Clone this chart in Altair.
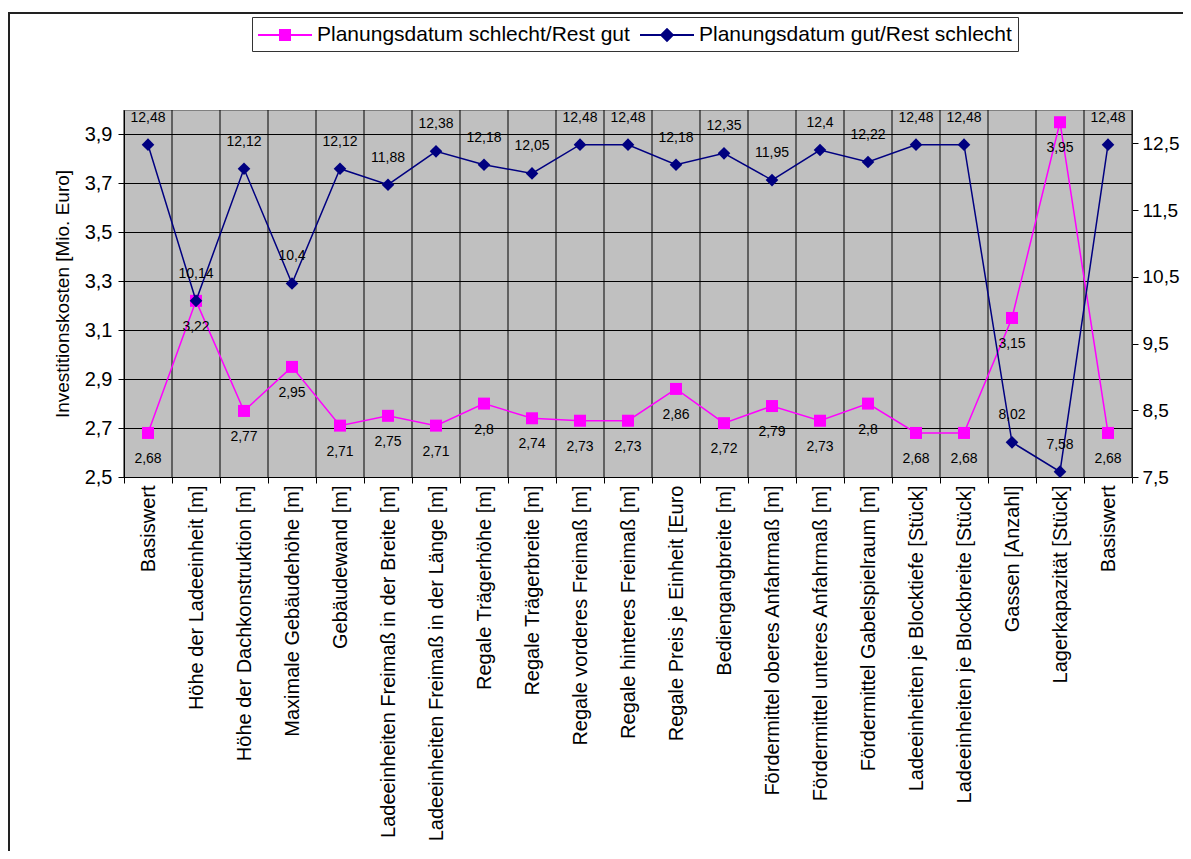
import json
import altair as alt
import pandas as pd

categories = [
    "Basiswert",
    "Höhe der Ladeeinheit [m]",
    "Höhe der Dachkonstruktion [m]",
    "Maximale Gebäudehöhe [m]",
    "Gebäudewand [m]",
    "Ladeeinheiten Freimaß in der Breite [m]",
    "Ladeeinheiten Freimaß in der Länge [m]",
    "Regale Trägerhöhe [m]",
    "Regale Trägerbreite [m]",
    "Regale vorderes Freimaß [m]",
    "Regale hinteres Freimaß [m]",
    "Regale Preis je Einheit [Euro",
    "Bediengangbreite [m]",
    "Fördermittel oberes Anfahrmaß [m]",
    "Fördermittel unteres Anfahrmaß [m]",
    "Fördermittel Gabelspielraum [m]",
    "Ladeeinheiten je Blocktiefe [Stück]",
    "Ladeeinheiten je Blockbreite [Stück]",
    "Gassen [Anzahl]",
    "Lagerkapazität [Stück]",
    "Basiswert",
]
pink_values = [2.68, 3.22, 2.77, 2.95, 2.71, 2.75, 2.71, 2.8, 2.74, 2.73, 2.73,
               2.86, 2.72, 2.79, 2.73, 2.8, 2.68, 2.68, 3.15, 3.95, 2.68]
blue_values = [12.48, 10.14, 12.12, 10.4, 12.12, 11.88, 12.38, 12.18, 12.05, 12.48, 12.48,
               12.18, 12.35, 11.95, 12.4, 12.22, 12.48, 12.48, 8.02, 7.58, 12.48]
left_ticks = [2.5, 2.7, 2.9, 3.1, 3.3, 3.5, 3.7, 3.9]
right_ticks = [7.5, 8.5, 9.5, 10.5, 11.5, 12.5]
series_names = ["Planungsdatum schlecht/Rest gut", "Planungsdatum gut/Rest schlecht"]
series_colors = ["#ff00ff", "#000080"]

n = len(categories)
idx = list(range(n))
bounds = [i - 0.5 for i in range(n + 1)]


def de(v):
    return f"{v:g}".replace(".", ",")


df = pd.DataFrame({
    "idx": idx,
    "cat": categories,
    "pink": pink_values,
    "blue": blue_values,
    "pink_lbl": [de(v) for v in pink_values],
    "blue_lbl": [de(v) for v in blue_values],
})

FONT = "Liberation Sans"
W, H = 1008, 367
PINK, NAVY = series_colors

xscale = alt.Scale(domain=[-0.5, n - 0.5], nice=False, zero=False)
cat_expr = json.dumps(categories, ensure_ascii=False)

label_axis = alt.Axis(
    orient="bottom",
    values=idx, labelExpr=f"{cat_expr}[datum.value]", labelAngle=270,
    labelAlign="right", labelBaseline="middle", labelPadding=8,
    labelFont=FONT, labelFontSize=20, labelColor="black", labelLimit=600,
    labelOverlap=False, labelFlush=False, ticks=False, grid=False,
    domain=True, domainColor="black", domainWidth=1,
)
tick_axis = alt.Axis(
    orient="bottom",
    values=bounds, labels=False, ticks=True, tickSize=6, tickColor="black",
    domain=False, grid=False,
)
num_expr1 = "replace(format(datum.value, '.1f'), '.', ',')"
left_axis = alt.Axis(
    orient="left", values=left_ticks, labelExpr=num_expr1,
    grid=True, gridColor="black", gridWidth=1, gridOpacity=1,
    tickSize=6, tickColor="black", domainColor="black",
    labelFont=FONT, labelFontSize=20, labelColor="black", labelPadding=6,
    title="Investitionskosten [Mio. Euro]", titleFont=FONT, titleFontSize=19,
    titleFontWeight="normal", titleColor="black", titlePadding=12,
)
right_axis = alt.Axis(
    orient="right", values=right_ticks, labelExpr=num_expr1,
    grid=False, tickSize=6, tickColor="black", domainColor="#404040",
    labelFont=FONT, labelFontSize=19, labelColor="black", labelPadding=4,
    title=None,
)

# vertical grid lines at category boundaries
grid = alt.Chart(pd.DataFrame({"b": bounds})).mark_rule(
    color="black", strokeWidth=1
).encode(x=alt.X("b:Q", scale=xscale, axis=tick_axis, title=None))

base_p = alt.Chart(df).encode(
    x=alt.X("idx:Q", scale=xscale, axis=label_axis, title=None),
    y=alt.Y("pink:Q", scale=alt.Scale(domain=[2.5, 4.0], nice=False, zero=False),
            axis=left_axis),
)
pink = alt.layer(
    base_p.mark_line(color=PINK, strokeWidth=1.5),
    base_p.mark_point(shape="square", filled=True, size=144, color=PINK, opacity=1),
    base_p.mark_text(dy=26, font=FONT, fontSize=14, color="black").encode(text="pink_lbl:N"),
)

base_b = alt.Chart(df).encode(
    x=alt.X("idx:Q", scale=xscale, axis=None),
    y=alt.Y("blue:Q", scale=alt.Scale(domain=[7.5, 13.0], nice=False, zero=False),
            axis=right_axis),
)
blue = alt.layer(
    base_b.mark_line(color=NAVY, strokeWidth=1.5),
    base_b.mark_point(shape="diamond", filled=True, size=160, color=NAVY, opacity=1),
    base_b.mark_text(dy=-27, font=FONT, fontSize=14, color="black").encode(text="blue_lbl:N"),
)

# legend symbols: line with marker (unit = 12 px, line 54 px long)
path_pink = ("M-1,-0.08L3.5,-0.08L3.5,0.08L-1,0.08Z "
             "M0.75,-0.5L1.75,-0.5L1.75,0.5L0.75,0.5Z")
path_navy = ("M-1,-0.08L3.5,-0.08L3.5,0.08L-1,0.08Z "
             "M1.25,-0.6L1.85,0L1.25,0.6L0.65,0Z")

leg = alt.Legend(
    title=None, orient="none", legendX=128, legendY=-93, direction="horizontal",
    labelFont=FONT, labelFontSize=21, labelColor="black", labelLimit=500,
    symbolSize=576, symbolStrokeWidth=0, symbolOpacity=1,
    fillColor="white", strokeColor="#333333", padding=6, labelOffset=35,
    columnPadding=10,
)
legend_layer = alt.Chart(pd.DataFrame({"series": series_names, "idx": [0, 0]})).mark_point(
    filled=True, opacity=0
).encode(
    x=alt.X("idx:Q", scale=xscale, axis=None),
    color=alt.Color("series:N", scale=alt.Scale(domain=series_names, range=series_colors),
                    legend=leg),
    shape=alt.Shape("series:N", scale=alt.Scale(domain=series_names,
                                                range=[path_pink, path_navy]),
                    legend=leg),
)

frame = alt.Chart(pd.DataFrame({"k": [0]})).mark_rect(
    fillOpacity=0, stroke="#222222", strokeWidth=2
).encode(
    x=alt.value(-115), x2=alt.value(W + 100), y=alt.value(-97), y2=alt.value(H + 500)
)

chart = alt.layer(grid, pink, blue, legend_layer, frame).resolve_scale(
    y="independent"
).resolve_axis(
    x="independent"
).properties(
    width=W, height=H,
    autosize=alt.AutoSizeParams(type="none"),
    padding={"left": 116, "top": 102, "right": 51, "bottom": 374},
    background="white",
).configure_view(
    fill="#c0c0c0", stroke="#808080", strokeWidth=1
)

chart.save("out.html", embed_options={"renderer": "svg", "actions": False})
